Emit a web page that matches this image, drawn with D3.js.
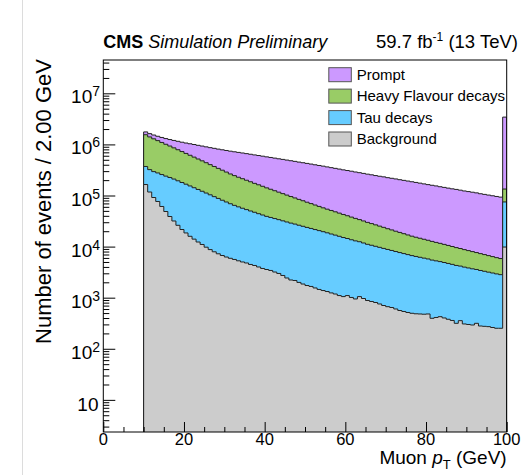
<!DOCTYPE html>
<html><head><meta charset="utf-8">
<script src="https://cdn.jsdelivr.net/npm/d3@7"></script>
<style>html,body{margin:0;padding:0;background:#fff;} svg{display:block;font-family:"Liberation Sans",Arial,sans-serif;}</style>
</head><body><svg id="c" width="528" height="475"></svg>
<script>
// ---------------- data ----------------
// bins of 1 GeV from 10 to 100 (lower edges); the last bin (99-100) holds the overflow
const binLow = d3.range(10, 100);
const binWidth = 1;
const prompt = [
  2.09e5,2.24e5,2.40e5,2.57e5,2.75e5,2.95e5,3.16e5,3.39e5,3.63e5,3.80e5,
  3.98e5,4.17e5,4.32e5,4.42e5,4.52e5,4.57e5,4.62e5,4.68e5,4.70e5,4.72e5,
  4.73e5,4.73e5,4.72e5,4.70e5,4.66e5,4.61e5,4.56e5,4.50e5,4.44e5,4.37e5,
  4.30e5,4.23e5,4.15e5,4.07e5,4.00e5,3.92e5,3.84e5,3.76e5,3.67e5,3.59e5,
  3.51e5,3.43e5,3.34e5,3.26e5,3.18e5,3.09e5,3.00e5,2.92e5,2.84e5,2.75e5,
  2.68e5,2.61e5,2.53e5,2.46e5,2.39e5,2.32e5,2.26e5,2.19e5,2.13e5,2.08e5,
  2.01e5,1.96e5,1.91e5,1.85e5,1.80e5,1.75e5,1.70e5,1.65e5,1.60e5,1.55e5,
  1.50e5,1.46e5,1.42e5,1.37e5,1.33e5,1.29e5,1.25e5,1.22e5,1.18e5,1.14e5,
  1.11e5,1.08e5,1.05e5,1.01e5,9.82e4,9.53e4,9.25e4,8.97e4,8.71e4,
  3.29e6];
const heavyFlavour = [
  1.178e6,1.081e6,9.93e5,9.10e5,8.36e5,7.67e5,7.05e5,6.47e5,5.93e5,5.45e5,
  5.00e5,4.59e5,4.22e5,3.87e5,3.56e5,3.27e5,2.99e5,2.75e5,2.52e5,2.32e5,
  2.13e5,1.95e5,1.81e5,1.68e5,1.57e5,1.46e5,1.36e5,1.26e5,1.18e5,1.10e5,
  1.02e5,9.53e4,8.87e4,8.26e4,7.69e4,7.16e4,6.67e4,6.21e4,5.78e4,5.40e4,
  5.02e4,4.68e4,4.36e4,4.06e4,3.78e4,3.54e4,3.33e4,3.12e4,2.93e4,2.75e4,
  2.58e4,2.42e4,2.27e4,2.13e4,2.00e4,1.87e4,1.76e4,1.65e4,1.55e4,1.46e4,
  1.36e4,1.28e4,1.20e4,1.13e4,1.06e4,9.93e3,9.33e3,8.83e3,8.39e3,7.96e3,
  7.57e3,7.19e3,6.82e3,6.49e3,6.17e3,5.86e3,5.56e3,5.28e3,5.02e3,4.76e3,
  4.53e3,4.31e3,4.08e3,3.88e3,3.69e3,3.50e3,3.33e3,3.16e3,3.01e3,
  5.9e4];
const tauDecays = [
  2.06e5,2.04e5,2.02e5,2.00e5,1.96e5,1.91e5,1.86e5,1.78e5,1.68e5,1.58e5,
  1.48e5,1.38e5,1.28e5,1.19e5,1.10e5,1.02e5,9.44e4,8.71e4,8.04e4,7.41e4,
  6.84e4,6.31e4,5.85e4,5.47e4,5.13e4,4.82e4,4.53e4,4.27e4,4.01e4,3.78e4,
  3.55e4,3.38e4,3.22e4,3.07e4,2.92e4,2.79e4,2.66e4,2.54e4,2.42e4,2.31e4,
  2.20e4,2.10e4,2.00e4,1.91e4,1.82e4,1.73e4,1.64e4,1.56e4,1.48e4,1.40e4,
  1.33e4,1.26e4,1.20e4,1.14e4,1.08e4,1.02e4,9.77e3,9.33e3,8.91e3,8.51e3,
  8.13e3,7.76e3,7.41e3,7.08e3,6.76e3,6.46e3,6.17e3,5.93e3,5.69e3,5.47e3,
  5.25e3,5.05e3,4.85e3,4.66e3,4.48e3,4.30e3,4.13e3,3.96e3,3.80e3,3.66e3,
  3.52e3,3.38e3,3.25e3,3.13e3,3.01e3,2.89e3,2.78e3,2.67e3,2.57e3,
  6.5e4];
const background = [
  1.64e5,1.17e5,9.14e4,7.64e4,6.10e4,4.86e4,3.88e4,3.17e4,2.61e4,2.16e4,
  1.85e4,1.59e4,1.40e4,1.23e4,1.10e4,9.73e3,8.73e3,7.91e3,7.23e3,6.69e3,
  6.25e3,5.90e3,5.60e3,5.27e3,5.00e3,4.78e3,4.47e3,4.27e3,3.99e3,3.73e3,
  3.56e3,3.41e3,3.18e3,2.98e3,2.72e3,2.43e3,2.22e3,2.17e3,1.99e3,1.85e3,
  1.73e3,1.66e3,1.55e3,1.45e3,1.38e3,1.32e3,1.24e3,1.18e3,1.10e3,1.05e3,
  1.10e3,1.01e3,944,1.05e3,964,881,843,805,753,703,
  667,643,601,561,537,513,495,484,480,475,
  480,395,410,425,401,378,358,315,355,306,
  299,292,315,279,275,271,261,252,252,
  9.8e3];
const seriesNames = ["Prompt", "Heavy Flavour decays", "Tau decays", "Background"];
const seriesColors = ["#cc99ff", "#99cc66", "#66ccff", "#cccccc"];
const xTickValues = [0, 20, 40, 60, 80, 100];
const xMinorValues = [5, 10, 15, 25, 30, 35, 45, 50, 55, 65, 70, 75, 85, 90, 95];
const yTickExponents = [1, 2, 3, 4, 5, 6, 7];

// ---------------- layout ----------------
const L = 103.3, R = 506.7, T = 60, B = 432;
const svg = d3.select("#c");
const x = d3.scaleLinear().domain([0, 100]).range([L, R]);
const yMin = 2.35, yMax = 4.49e7;
const y = d3.scaleLog().domain([yMin, yMax]).range([B, T]);

// faint page border
svg.append("line").attr("x1", 22.5).attr("x2", 22.5).attr("y1", 0).attr("y2", 475)
  .attr("stroke", "#dcdcdc").attr("stroke-width", 1);

// stack (bottom to top: background, tau, heavy flavour, prompt)
const stackOrder = [background, tauDecays, heavyFlavour, prompt];
const stackColors = ["#cccccc", "#66ccff", "#99cc66", "#cc99ff"];
const n = binLow.length;
const cum = [];
let running = new Array(n).fill(0);
stackOrder.forEach(s => { running = running.map((v, i) => v + s[i]); cum.push(running.slice()); });

svg.append("clipPath").attr("id", "clip").append("rect")
  .attr("x", L).attr("y", T).attr("width", R - L).attr("height", B - T);
const g = svg.append("g").attr("clip-path", "url(#clip)");

const area = d3.area().x(d => x(d[0])).y0(B).y1(d => y(d[1])).curve(d3.curveStepAfter);
const line = d3.line().x(d => x(d[0])).y(d => y(d[1])).curve(d3.curveStepAfter);
for (let j = 3; j >= 0; j--) {
  const pts = binLow.map((b, i) => [b, cum[j][i]]);
  pts.push([binLow[n - 1] + binWidth, cum[j][n - 1]]);
  g.append("path").attr("d", area(pts)).attr("fill", stackColors[j]).attr("stroke", "none");
  const out = [[binLow[0], yMin]].concat(pts, [[binLow[n - 1] + binWidth, yMin]]);
  g.append("path").attr("d", line(out)).attr("fill", "none").attr("stroke", "#222").attr("stroke-width", 1);
}

// ---------------- axes ----------------
const yMinor = [];
for (let e = 0; e <= 7; e++) for (let k = 2; k <= 9; k++) {
  const v = k * Math.pow(10, e);
  if (v > yMin && v < yMax) yMinor.push(v);
}
const yMajor = yTickExponents.map(e => Math.pow(10, e));
function styleAxis(sel) { sel.select(".domain").remove(); sel.selectAll("line").attr("stroke", "#000"); }
svg.append("g").attr("transform", `translate(${L},0)`)
  .call(d3.axisLeft(y).tickValues(yMinor).tickSize(-6).tickFormat("")).call(styleAxis);
svg.append("g").attr("transform", `translate(${L},0)`)
  .call(d3.axisLeft(y).tickValues(yMajor).tickSize(-12).tickFormat("")).call(styleAxis);
svg.append("g").attr("transform", `translate(0,${B})`)
  .call(d3.axisBottom(x).tickValues(xMinorValues).tickSize(-5).tickFormat("")).call(styleAxis);
svg.append("g").attr("transform", `translate(0,${B})`)
  .call(d3.axisBottom(x).tickValues(xTickValues).tickSize(-10).tickFormat("")).call(styleAxis);

// frame
svg.append("rect").attr("x", L).attr("y", T).attr("width", R - L).attr("height", B - T)
  .attr("fill", "none").attr("stroke", "#000").attr("stroke-width", 1);

// x tick labels
svg.append("g").selectAll("text").data(xTickValues).join("text")
  .attr("x", d => x(d)).attr("y", 445).attr("text-anchor", "middle")
  .attr("font-size", 16.5).attr("fill", "#000").text(d => d);

// y tick labels
yTickExponents.forEach(e => {
  const t = svg.append("text").attr("x", 100).attr("y", y(Math.pow(10, e)) + 10)
    .attr("text-anchor", "end").attr("font-size", 19).attr("fill", "#000");
  if (e === 1) { t.attr("x", 98.5).attr("y", y(10) + 11).text("10"); }
  else {
    t.append("tspan").text("10");
    t.append("tspan").attr("font-size", 14).attr("dy", -7).text(e);
  }
});

// axis titles
const xt = svg.append("text").attr("x", 506.7).attr("y", 464).attr("text-anchor", "end")
  .attr("font-size", 19).attr("fill", "#000");
xt.append("tspan").text("Muon ");
xt.append("tspan").attr("font-style", "italic").text("p");
xt.append("tspan").attr("font-size", 13).attr("dy", 5).text("T");
xt.append("tspan").attr("dy", -5).text(" (GeV)");

svg.append("text").attr("transform", "translate(51,201.5) rotate(-90)")
  .attr("text-anchor", "middle").attr("font-size", 22).attr("fill", "#000")
  .text("Number of events / 2.00 GeV");

// header
const h = svg.append("text").attr("x", 103.3).attr("y", 48).attr("font-size", 18).attr("fill", "#000");
h.append("tspan").attr("font-weight", "bold").text("CMS");
h.append("tspan").attr("font-style", "italic").text(" Simulation Preliminary");
const lumi = svg.append("text").attr("x", 518).attr("y", 48).attr("text-anchor", "end")
  .attr("font-size", 18.5).attr("fill", "#000");
lumi.append("tspan").text("59.7 fb");
lumi.append("tspan").attr("font-size", 12).attr("dy", -7).text("-1");
lumi.append("tspan").attr("dy", 7).text(" (13 TeV)");

// legend
const legY = [74.7, 96.1, 117.6, 139];
const leg = svg.append("g");
seriesNames.forEach((name, i) => {
  leg.append("rect").attr("x", 328.8).attr("y", legY[i] - 7).attr("width", 22.5).attr("height", 14)
    .attr("fill", seriesColors[i]).attr("stroke", "#555").attr("stroke-width", 1);
  leg.append("text").attr("x", 356.7).attr("y", legY[i] + 5.3).attr("font-size", 15)
    .attr("fill", "#000").text(name);
});
</script></body></html>
